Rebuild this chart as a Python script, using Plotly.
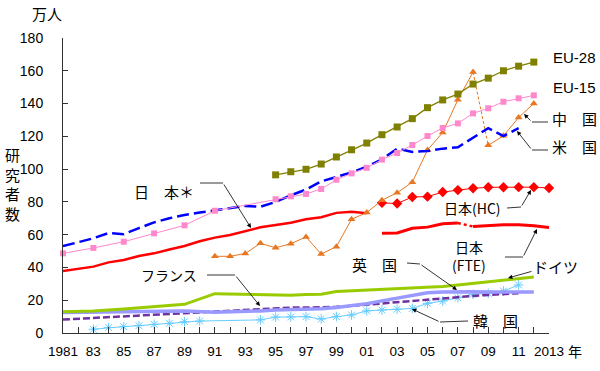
import plotly.graph_objects as go

# ---------------- data ----------------
eu28_years = list(range(1995, 2013))
eu28_vals = [96.5, 98.4, 99.9, 103.1, 107.4, 111.8, 115.9, 121.0, 125.7, 130.8,
             137.5, 142.2, 145.8, 151.9, 155.5, 160.0, 162.8, 165.3]

eu15_years = [1981, 1983, 1985, 1987, 1989, 1991] + list(range(1995, 2013))
eu15_vals = [48.6, 51.9, 55.7, 60.8, 65.7, 74.6,
             81.6, 83.4, 84.8, 87.9, 93.5, 97.4, 100.8, 105.8, 109.8, 114.7,
             120.2, 125.1, 127.9, 134.0, 137.1, 141.1, 143.2, 145.0]

us_years = list(range(1981, 2012))
us_vals = [53.0, 55.5, 57.8, 61.0, 60.3, 64.0, 67.5, 70.0, 72.0, 73.5, 74.8,
           76.0, 77.5, 77.0, 80.0, 84.0, 87.5, 92.5, 95.4, 98.0, 101.5, 106.0,
           112.5, 110.5, 111.0, 112.5, 113.3, 119.0, 125.0, 120.2, 125.0]

japan_star_years = list(range(1981, 2002))
japan_star_vals = [37.8, 39.2, 40.5, 43.1, 44.5, 47.0, 48.6, 51.0, 53.1, 56.0,
                   58.2, 59.8, 62.0, 64.5, 65.9, 67.3, 69.4, 70.6, 73.3, 74.0, 73.0]

japan_hc_years = list(range(2002, 2014))
japan_hc_vals = [79.4, 79.0, 83.0, 83.2, 86.0, 87.2, 88.3, 88.9, 88.9, 89.0, 89.0, 88.5]

japan_fte_years = list(range(2002, 2014))
japan_fte_vals = [60.8, 61.0, 63.9, 64.6, 66.6, 67.1, 65.0, 65.5, 66.0, 66.0, 65.5, 64.4]

china_years = list(range(1991, 2013))
china_vals = [46.8, 46.8, 48.5, 54.7, 52.0, 54.5, 58.6, 48.2, 52.7, 69.4, 73.5,
              81.0, 85.6, 92.0, 111.7, 122.3, 142.3, 159.2, 114.5, 120.3, 131.5, 140.0]

germany_years = [1981, 1983, 1985, 1987, 1989, 1991, 1993] + list(range(1995, 2013))
germany_vals = [12.9, 13.4, 14.6, 16.0, 17.5, 24.0, 23.5,
                23.0, 23.0, 23.5, 23.7, 25.3, 25.7, 26.4, 26.6, 26.8, 27.2,
                27.7, 28.4, 29.3, 30.3, 31.3, 32.5, 33.5, 34.2]

uk_years = [1981, 1983, 1985, 1987, 1989, 1991, 1993] + list(range(1994, 2013))
uk_vals = [12.5, 12.8, 13.0, 13.4, 13.4, 12.7, 13.0,
           13.5, 14.0, 14.2, 14.4, 14.8, 15.5, 16.5, 17.8, 19.6, 21.2, 22.8,
           24.6, 25.0, 25.2, 25.2, 25.0, 25.1, 25.1, 25.0]

france_years = [1981, 1983, 1985, 1987, 1989] + list(range(1991, 2012))
france_vals = [8.2, 9.2, 10.3, 11.0, 12.0,
               13.0, 13.6, 14.1, 14.8, 15.2, 15.5, 15.5, 15.6, 16.0, 16.5, 17.3,
               18.0, 18.8, 19.8, 20.6, 21.4, 22.2, 22.6, 23.2, 23.7, 24.3]

korea_years = list(range(1983, 1991)) + list(range(1994, 2012))
korea_vals = [2.3, 3.3, 3.9, 4.5, 5.3, 5.9, 6.9, 7.3,
              8.0, 9.7, 9.8, 10.0, 8.5, 10.0, 11.0, 13.5, 14.0, 14.5, 15.0,
              18.1, 19.5, 21.5, 23.6, 24.2, 25.6, 29.3]

x_tick_years = list(range(1981, 2014))
x_tick_text = ["1981" if y == 1981 else ("2013" if y == 2013 else (f"{y % 100:02d}" if y % 2 == 1 else ""))
               for y in x_tick_years]
y_ticks = list(range(0, 181, 20))

# ---------------- figure ----------------
JP = "Noto Sans CJK JP"
NUM = "Liberation Sans, Arial, sans-serif"

fig = go.Figure()

def line(x, y, color, width, dash="solid", mode="lines", marker=None):
    tr = dict(x=x, y=y, mode=mode, line=dict(color=color, width=width, dash=dash),
              showlegend=False, hoverinfo="skip", cliponaxis=False)
    if marker:
        tr["marker"] = marker
    fig.add_trace(go.Scatter(**tr))

# Korea
line(korea_years, korea_vals, "#66CCFF", 1, mode="lines+markers",
     marker=dict(symbol="asterisk-open", size=8, color="#66CCFF", line=dict(color="#66CCFF", width=1)))
# France
line(france_years, france_vals, "#7030A0", 2.5, dash="7px,3px")
# UK
line(uk_years, uk_vals, "#9999FF", 3.5)
# Germany
line(germany_years, germany_vals, "#99CC00", 3)
# Japan*
line(japan_star_years, japan_star_vals, "#FF0000", 2.5)
# Japan FTE (dotted 2007-2008)
i = japan_fte_years.index(2007)
line(japan_fte_years[:i + 1], japan_fte_vals[:i + 1], "#FF0000", 3)
line(japan_fte_years[i:i + 2], japan_fte_vals[i:i + 2], "#FF0000", 2.5, dash="dot")
line(japan_fte_years[i + 1:], japan_fte_vals[i + 1:], "#FF0000", 3)
# Japan HC
line(japan_hc_years, japan_hc_vals, "#FF0000", 1, mode="lines+markers",
     marker=dict(symbol="diamond", size=8, color="#FF0000"))
# China (dotted 2008-2009)
j = china_years.index(2008)
line(china_years[j:j + 2], china_vals[j:j + 2], "#E87722", 1, dash="3px,2px")
line(china_years[:j + 1], china_vals[:j + 1], "#E87722", 1, mode="lines+markers",
     marker=dict(symbol="triangle-up", size=7, color="#E87722"))
line(china_years[j + 1:], china_vals[j + 1:], "#E87722", 1, mode="lines+markers",
     marker=dict(symbol="triangle-up", size=7, color="#E87722"))
# US
line(us_years, us_vals, "#0000FF", 2.5, dash="12px,5px")
# EU-15
line(eu15_years, eu15_vals, "#FF88CC", 1, mode="lines+markers",
     marker=dict(symbol="square", size=6, color="#FF88CC"))
# EU-28
line(eu28_years, eu28_vals, "#808000", 1.3, mode="lines+markers",
     marker=dict(symbol="square", size=7, color="#808000"))

# ---------------- layout ----------------
L, R, T, B = 63, 51, 38, 38
W, H = 600, 371
PW, PH = W - L - R, H - T - B

def px(xp):
    return (xp - L) / PW

def py(yp):
    return (H - B - yp) / PH

ann = []
def label(text, xp, yp, size=14, family=JP):
    ann.append(dict(text=text, x=px(xp), y=py(yp), xref="paper", yref="paper", showarrow=False,
                    xanchor="center", yanchor="middle",
                    font=dict(family=family, size=size, color="#000000")))

def arrow(x_tail, y_tail, x_head, y_head):
    ann.append(dict(text="", x=px(x_head), y=py(y_head), xref="paper", yref="paper",
                    ax=x_tail - x_head, ay=y_tail - y_head, showarrow=True,
                    arrowhead=2, arrowsize=1.1, arrowwidth=0.8, arrowcolor="#000000",
                    standoff=0, startstandoff=0))

shapes = []
def seg(x0, y0, x1, y1):
    shapes.append(dict(type="line", x0=px(x0), y0=py(y0), x1=px(x1), y1=py(y1),
                       xref="paper", yref="paper", line=dict(color="#000000", width=0.8)))

label("EU-28", 574, 57, size=15, family=NUM)
label("EU-15", 574, 87, size=15, family=NUM)
label("中　国", 574, 118, size=15)
label("米　国", 574, 146, size=15)
label("日本(HC)", 472, 208)
label("日本<br>(FTE)", 469, 256)
label("英　国", 374, 264, size=15)
label("ドイツ", 555, 266, size=15)
label("韓　国", 495, 320, size=15)
label("フランス", 169, 275)
label("日　本＊", 164, 191, size=15)
label("万人", 47, 13, size=15)
label("研<br>究<br>者<br>数", 12, 184, size=15)
label("年", 575, 351, size=14)

# connectors
seg(548, 122, 532, 122); arrow(532, 122, 524, 114)
seg(548, 150, 532, 150); arrow(532, 150, 517, 131)
seg(507, 208, 521, 207); arrow(521, 207, 531, 190)
seg(505, 257, 523, 257); arrow(523, 257, 537, 229)
seg(407, 263, 420, 264); arrow(420, 264, 457, 290)
arrow(533, 271, 508, 278)
seg(468, 321, 440, 322); arrow(440, 322, 412, 309)
seg(207, 275, 235, 275); arrow(235, 275, 260, 306)
seg(200, 183, 223, 183); arrow(223, 183, 251, 228)

fig.update_layout(
    width=W, height=H,
    margin=dict(l=L, r=R, t=T, b=B, pad=0),
    paper_bgcolor="white", plot_bgcolor="white",
    annotations=ann, shapes=shapes,
    xaxis=dict(range=[1981, 2013], tickmode="array", tickvals=x_tick_years, ticktext=x_tick_text,
               ticks="inside", ticklen=6, tickcolor="#333333", tickwidth=1,
               showline=True, linecolor="#333333", linewidth=1, showgrid=False, zeroline=False,
               tickfont=dict(family=NUM, size=13.5, color="#000000"), ticklabelstandoff=6),
    yaxis=dict(range=[0, 180], tickmode="array", tickvals=y_ticks,
               ticks="inside", ticklen=5, tickcolor="#333333", tickwidth=1,
               showline=True, linecolor="#333333", linewidth=1, showgrid=False, zeroline=False,
               tickfont=dict(family=NUM, size=14, color="#000000"), ticklabelstandoff=16),
)

fig.write_html("out.html", config={"displayModeBar": False},
               post_script="document.body.style.margin='0';document.body.style.overflow='hidden';")
